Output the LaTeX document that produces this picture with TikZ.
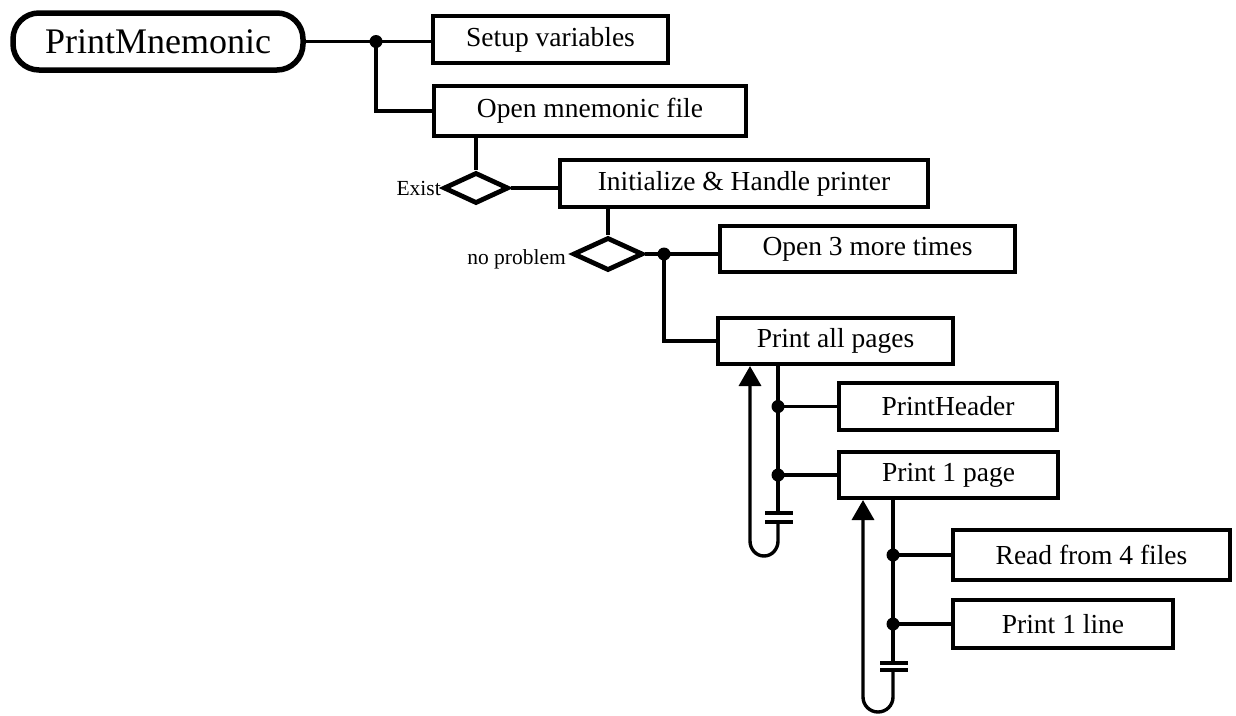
\documentclass[tikz,border=0pt]{standalone}
\usepackage{fontspec}
\setmainfont{Liberation Serif}
\usetikzlibrary{shapes.geometric,arrows.meta,calc}
\begin{document}
\begin{tikzpicture}[x=1pt,y=-1pt,
 box/.style={draw,line width=4pt,inner sep=0pt,font=\fontsize{27.5}{30}\selectfont},
 conn/.style={line width=3.4pt},
 dec/.style={draw,diamond,line width=4.8pt,inner sep=0pt},
 dot/.style={circle,fill,inner sep=0pt,minimum size=13pt},
 lbl/.style={font=\fontsize{21.5}{23}\selectfont,inner sep=0pt},
 up/.style={conn,-{Triangle[width=22pt,length=20pt]}}]
\useasboundingbox (0,0) rectangle (1236,715);
% boxes
\node[box, rounded corners=26pt, line width=5.5pt, minimum width=290pt, minimum height=57pt, font=\fontsize{36}{40}\selectfont] (main) at (158,41.5) {PrintMnemonic};
\node[box, minimum width=235pt, minimum height=47pt] (setup) at (550.5,39.5) {Setup variables};
\node[box, minimum width=312pt, minimum height=50pt] (open) at (590,111) {Open mnemonic file};
\node[box, minimum width=368pt, minimum height=47pt] (init) at (744,183.5) {Initialize \& Handle printer};
\node[box, minimum width=295pt, minimum height=46pt] (open3) at (867.5,249) {Open 3 more times};
\node[box, minimum width=235pt, minimum height=46pt] (printall) at (835.5,341) {Print all pages};
\node[box, minimum width=218pt, minimum height=47pt] (header) at (948,406.5) {PrintHeader};
\node[box, minimum width=219pt, minimum height=46pt] (page) at (948.5,475) {Print 1 page};
\node[box, minimum width=277pt, minimum height=50pt] (read) at (1091.5,555) {Read from 4 files};
\node[box, minimum width=220pt, minimum height=48pt] (pline) at (1063,624) {Print 1 line};
% decisions
\node[dec, minimum width=65pt, minimum height=31pt] (d1) at (476,188) {};
\node[dec, minimum width=70pt, minimum height=33pt] (d2) at (608,254) {};
\node[lbl, anchor=east] (exist) at (441,188) {Exist};
\node[lbl, anchor=east] (nop) at (566,259) {no problem};
% connectors
\coordinate (j1) at (376,41.5);
\draw[conn] (main.east) -- (main.east -| setup.west);
\draw[conn] (j1) |- (open.west);
\node[dot] at (j1) {};
\draw[conn] (open.south -| d1.north) -- (d1.north);
\draw[conn] (d1.east) -- (d1.east -| init.west);
\draw[conn] (init.south -| d2.north) -- (d2.north);
\coordinate (j2) at (664,254);
\draw[conn] (d2.east) -- (d2.east -| open3.west);
\draw[conn] (j2) |- (printall.west);
\node[dot] at (j2) {};
% loop 1
\coordinate (t1) at (778,364);
\coordinate (b1a) at (778,513);
\coordinate (b1b) at (778,522);
\draw[conn] (t1) -- (b1a);
\draw[conn] (t1 |- header.west) -- (header.west);
\draw[conn] (t1 |- page.west) -- (page.west);
\node[dot] at (t1 |- header.west) {};
\node[dot] at (t1 |- page.west) {};
\draw[conn] (765,513) -- (793,513);
\draw[conn] (765,522) -- (793,522);
\draw[up] (b1b) -- (778,541) to[out=270,in=0] (764,556) to[out=180,in=270] (750,541) -- (750,366);
% loop 2
\coordinate (t2) at (893,498);
\coordinate (b2a) at (893,663);
\coordinate (b2b) at (893,670);
\draw[conn] (t2) -- (b2a);
\draw[conn] (t2 |- read.west) -- (read.west);
\draw[conn] (t2 |- pline.west) -- (pline.west);
\node[dot] at (t2 |- read.west) {};
\node[dot] at (t2 |- pline.west) {};
\draw[conn] (880,663) -- (908,663);
\draw[conn] (880,670) -- (908,670);
\draw[up] (b2b) -- (893,697) to[out=270,in=0] (878,712) to[out=180,in=270] (863,697) -- (863,500);
\end{tikzpicture}
\end{document}
